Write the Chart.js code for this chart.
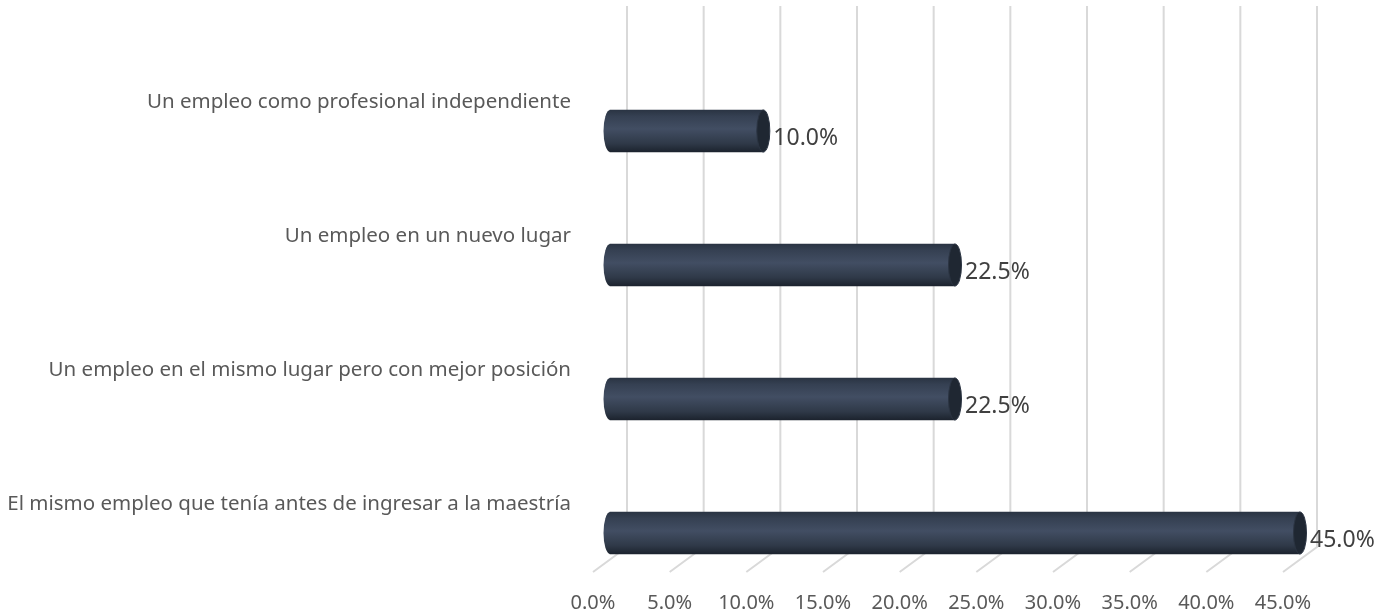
<!DOCTYPE html>
<html>
<head>
<meta charset="utf-8">
<script src="https://cdn.jsdelivr.net/npm/chart.js@4"></script>
<style>
  html, body { margin: 0; padding: 0; background: #fff; }
  #wrap { width: 1376px; height: 615px; }
</style>
</head>
<body>
<div id="wrap"><canvas id="chart"></canvas></div>
<script>
// data
const categories = [
  "Un empleo como profesional independiente",
  "Un empleo en un nuevo lugar",
  "Un empleo en el mismo lugar pero con mejor posición",
  "El mismo empleo que tenía antes de ingresar a la maestría"
];
const percents = [10.0, 22.5, 22.5, 45.0];
const tickValues = [0, 5, 10, 15, 20, 25, 30, 35, 40, 45];

const FONT = "'Noto Sans', sans-serif";
const BAR_H = 42;
const DEPTH_BACK = 17;   // back wall offset (3d look)
const DEPTH_FRONT = -17; // front edge offset
const CAP_RX = 6.5;

function bodyGradient(ctx, yc) {
  if (!isFinite(yc)) return "#333f50";
  const g = ctx.createLinearGradient(0, yc - BAR_H / 2, 0, yc + BAR_H / 2);
  g.addColorStop(0, "#2a3443");
  g.addColorStop(0.15, "#354052");
  g.addColorStop(0.45, "#424e63");
  g.addColorStop(0.8, "#2f3948");
  g.addColorStop(1, "#1c232e");
  return g;
}

// gridlines on the back wall plus slanted floor lines
const wallPlugin = {
  id: "wall",
  beforeDatasetsDraw(chart) {
    const { ctx, scales } = chart;
    const x = scales.x;
    ctx.save();
    ctx.strokeStyle = "#d9d9d9";
    ctx.lineWidth = 2;
    tickValues.forEach(v => {
      const px = x.getPixelForValue(v);
      ctx.beginPath();
      ctx.moveTo(px + DEPTH_BACK, 6);
      ctx.lineTo(px + DEPTH_BACK, 547);
      ctx.lineTo(px + DEPTH_FRONT, 572);
      ctx.stroke();
    });
    ctx.restore();
  }
};

// round start + end cap of each cylinder, then value labels
const cylPlugin = {
  id: "cyl",
  afterDatasetsDraw(chart) {
    const { ctx } = chart;
    const meta = chart.getDatasetMeta(0);
    ctx.save();
    meta.data.forEach((bar, i) => {
      const yc = bar.y;
      // left rounded start
      ctx.beginPath();
      ctx.ellipse(bar.base, yc, CAP_RX, BAR_H / 2, 0, Math.PI / 2, Math.PI * 1.5);
      ctx.fillStyle = bodyGradient(ctx, yc);
      ctx.fill();
      // right end cap
      ctx.beginPath();
      ctx.ellipse(bar.x, yc, CAP_RX, BAR_H / 2, 0, 0, Math.PI * 2);
      ctx.fillStyle = "#1f2732";
      ctx.fill();
      ctx.strokeStyle = "#2b3442";
      ctx.lineWidth = 1;
      ctx.stroke();
      // value label
      ctx.fillStyle = "#404040";
      ctx.font = "23px " + FONT;
      ctx.textAlign = "left";
      ctx.textBaseline = "middle";
      ctx.fillText(percents[i].toFixed(1) + "%", bar.x + 10, yc + 7);
    });
    ctx.restore();
  }
};

new Chart(document.getElementById("chart"), {
  type: "bar",
  data: {
    labels: categories,
    datasets: [{
      data: percents,
      barThickness: BAR_H,
      clip: false,
      borderWidth: 0,
      backgroundColor: (c) => {
        const y = c.chart.scales.y;
        if (!y) return "#333f50";
        return bodyGradient(c.chart.ctx, y.getPixelForValue(c.dataIndex));
      }
    }]
  },
  options: {
    indexAxis: "y",
    responsive: true,
    maintainAspectRatio: false,
    animation: false,
    layout: { padding: { top: 131, right: 76, bottom: 0, left: 0 } },
    plugins: { legend: { display: false }, tooltip: { enabled: false } },
    scales: {
      x: {
        min: 0,
        max: 45,
        afterBuildTicks: (s) => { s.ticks = tickValues.map(v => ({ value: v })); },
        afterFit: (s) => { s.height = 82; s.paddingLeft = 0; s.paddingRight = 0; },
        grid: { display: false, drawTicks: false },
        border: { display: false },
        ticks: {
          padding: 58,
          labelOffset: DEPTH_FRONT,
          color: "#595959",
          font: { family: FONT, size: 20 },
          callback: (v) => Number(v).toFixed(1) + "%"
        }
      },
      y: {
        offset: false,
        afterFit: (s) => { s.width = 610; },
        grid: { display: false, drawTicks: false },
        border: { display: false },
        ticks: {
          padding: 39,
          labelOffset: -29,
          color: "#595959",
          font: { family: FONT, size: 20.5 }
        }
      }
    }
  },
  plugins: [wallPlugin, cylPlugin]
});
</script>
</body>
</html>
